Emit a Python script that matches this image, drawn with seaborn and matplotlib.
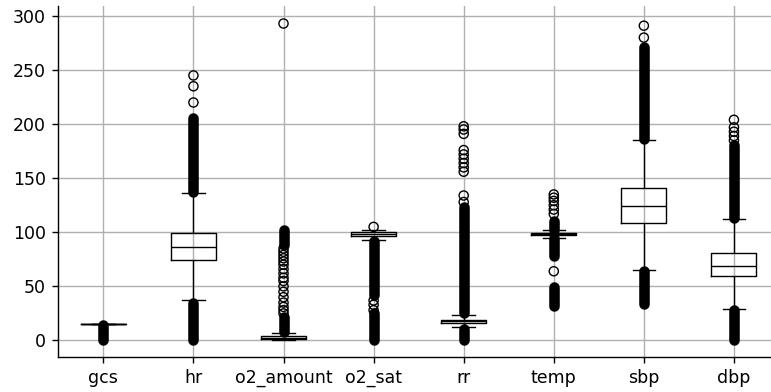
import matplotlib
matplotlib.use("Agg")
import matplotlib.pyplot as plt
import seaborn as sns
import pandas as pd

# ---- data ----
categories = ["gcs", "hr", "o2_amount", "o2_sat", "rr", "temp", "sbp", "dbp"]
whislo = [15, 37, 0, 93, 12, 95, 65, 29]
q1 = [15, 74, 1, 97, 16, 97.5, 109, 60]
median = [15, 86, 2, 98, 18, 98.4, 124, 69]
q3 = [15, 99, 4, 100, 19, 99.3, 141, 81]
whishi = [15, 136, 7, 102, 24, 102, 185, 112]

# dense runs of outliers (drawn as solid stacks of circles)
band_var = ["gcs", "hr", "hr", "o2_amount", "o2_amount", "o2_sat", "o2_sat",
            "rr", "rr", "temp", "temp", "temp", "sbp", "sbp", "dbp", "dbp"]
band_lo = [0, 0, 137, 8, 88, 0, 42, 0, 25, 32, 78, 102.5, 34, 186, 0, 113]
band_hi = [14, 35, 206, 22, 102, 25, 92, 11, 123, 49, 94.5, 110, 64, 271, 28, 181]

# individual outliers
flier_var = (["hr"] * 3 + ["o2_amount"] * 18 + ["o2_sat"] * 4 + ["rr"] * 11
             + ["temp"] * 7 + ["sbp"] * 2 + ["dbp"] * 5)
flier_val = ([245, 235, 220]
             + [25, 28, 31, 35, 40, 45, 50, 55, 58, 62, 66, 70, 73, 76, 79, 82, 85, 293]
             + [28, 33, 37, 105]
             + [198, 195, 191, 176, 172, 168, 164, 160, 156, 134, 128]
             + [64, 117, 121, 125, 129, 132, 135]
             + [280, 291]
             + [185, 189, 193, 197, 204])

yticks = [0, 50, 100, 150, 200, 250, 300]

# ---- style ----
S = 1.25
plt.rcParams.update({
    "font.family": ["DejaVu Sans"],
    "font.size": 10 * S,
    "axes.linewidth": 0.8 * S,
    "xtick.major.size": 3.5 * S,
    "ytick.major.size": 3.5 * S,
    "xtick.major.width": 0.8 * S,
    "ytick.major.width": 0.8 * S,
    "xtick.major.pad": 3.5 * S,
    "ytick.major.pad": 3.5 * S,
})

fig = plt.figure(figsize=(7.71, 3.92), dpi=100)
ax = fig.add_axes([58.3 / 771, (392 - 356.7) / 392, (779 - 58.3) / 771, (356.7 - 6) / 392])

# five-number summaries -> seaborn boxes (whiskers at min/max of the summary)
rows = []
for i, c in enumerate(categories):
    for v in (whislo[i], q1[i], median[i], q3[i], whishi[i]):
        rows.append({"var": c, "value": v})
df = pd.DataFrame(rows)

sns.boxplot(data=df, x="var", y="value", order=categories, whis=(0, 100),
            width=0.5, fill=False, color="black", linewidth=1.0,
            showfliers=False, ax=ax, zorder=3)

pos = {c: i for i, c in enumerate(categories)}

# dense outlier runs
bands = pd.DataFrame({"var": band_var, "lo": band_lo, "hi": band_hi})
bands["x"] = bands["var"].map(pos)
lc = ax.vlines(bands["x"], bands["lo"], bands["hi"], colors="black",
               linewidth=7.6, zorder=4)
lc.set_capstyle("round")

# sparse outliers
fl = pd.DataFrame({"var": flier_var, "value": flier_val})
fl["x"] = fl["var"].map(pos)
sns.scatterplot(data=fl, x="x", y="value", marker="o", s=6.6 ** 2,
                facecolor="none", edgecolor="black", linewidth=1.0,
                ax=ax, zorder=5, legend=False)

ax.set_xlim(-0.5, len(categories) - 0.5)
ax.set_ylim(-15.0, 309.2)
ax.set_xticks(range(len(categories)))
ax.set_xticklabels(categories)
ax.set_yticks(yticks)
ax.set_xlabel("")
ax.set_ylabel("")
ax.grid(True, color="#b0b0b0", linewidth=0.8 * S, zorder=0)
ax.set_axisbelow(True)
ax.spines["top"].set_visible(False)
ax.spines["right"].set_visible(False)
ax.tick_params(colors="black")

fig.savefig("out.png", dpi=100)
